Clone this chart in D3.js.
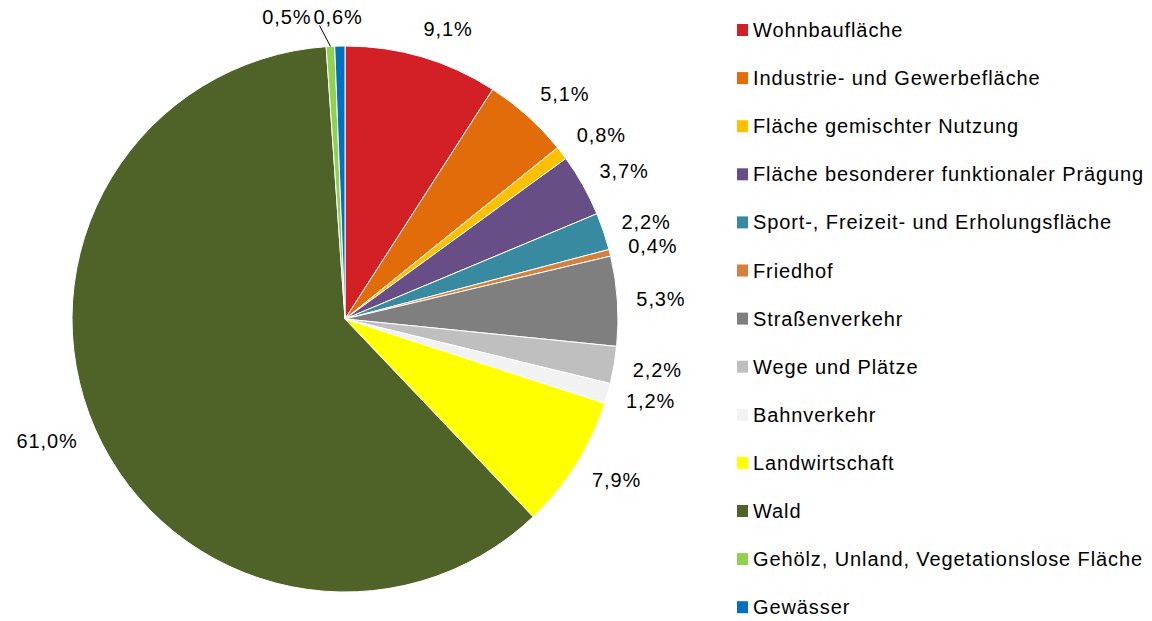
<!DOCTYPE html>
<html>
<head>
<meta charset="utf-8">
<script src="https://cdn.jsdelivr.net/npm/d3@7"></script>
<style>
body{margin:0;background:#fff;}
text{font-family:"Liberation Sans",Arial,sans-serif;font-size:20px;letter-spacing:0.9px;fill:#000;}
</style>
</head>
<body>
<svg class="chart"></svg>
<script>
var categories=["Wohnbaufläche","Industrie- und Gewerbefläche","Fläche gemischter Nutzung","Fläche besonderer funktionaler Prägung","Sport-, Freizeit- und Erholungsfläche","Friedhof","Straßenverkehr","Wege und Plätze","Bahnverkehr","Landwirtschaft","Wald","Gehölz, Unland, Vegetationslose Fläche","Gewässer"];
var values=[9.1,5.1,0.8,3.7,2.2,0.4,5.3,2.2,1.2,7.9,61.0,0.5,0.6];
var labels=["9,1%","5,1%","0,8%","3,7%","2,2%","0,4%","5,3%","2,2%","1,2%","7,9%","61,0%","0,5%","0,6%"];
var colors=["#D32027","#E36C0A","#FFC000","#684E87","#378A9F","#D5803C","#7F7F7F","#BFBFBF","#F2F2F2","#FFFF00","#4F6228","#92D050","#0070C0"];

var screen={width:1152,height:621};
var svg=d3.select("svg.chart")
          .attr("width",screen.width)
          .attr("height",screen.height);

var center={x:345,y:319};
var radius=273;
var labelRadius=radius+19;

var pie=d3.pie().sort(null).value(function(d){return d;});
var arcs=pie(values);
var arc=d3.arc().innerRadius(0).outerRadius(radius);
var color=d3.scaleOrdinal().domain(categories).range(colors);

var plot=svg.append("g")
            .attr("transform","translate("+center.x+","+center.y+")");
plot.selectAll("path")
    .data(arcs)
    .enter()
    .append("path")
    .attr("d",arc)
    .attr("fill",function(d,i){return color(categories[i]);})
    .attr("stroke","#fff")
    .attr("stroke-width",1);

// labels: near edge of the box sits on a circle just outside the pie
var lab=plot.selectAll("text.lab")
            .data(arcs)
            .enter()
            .append("text")
            .classed("lab",true)
            .attr("text-anchor","middle")
            .attr("dy","0.35em")
            .text(function(d,i){return labels[i];});
var boxes=[];
lab.each(function(d,i){
  var w=this.getComputedTextLength();
  var a=(d.startAngle+d.endAngle)/2;
  var s=Math.sin(a),c=Math.cos(a);
  var ax=labelRadius*s,ay=-labelRadius*c;
  var k=Math.max(-1,Math.min(1,s*3));
  boxes.push({a:a,w:w,h:20,x:ax+k*w/2,y:ay-c*10,moved:false});
});
// push overlapping neighbours apart (walk backwards from the last slice)
for(var i=boxes.length-2;i>=0;i--){
  var b=boxes[i],n=boxes[i+1];
  if(Math.abs(b.y-n.y)<b.h && Math.abs(b.x-n.x)<(b.w+n.w)/2+2){
    if(b.x<=n.x){b.x=n.x-(b.w+n.w)/2-2;}else{b.x=n.x+(b.w+n.w)/2+2;}
    b.moved=true;
  }
}
lab.attr("x",function(d,i){return boxes[i].x;})
   .attr("y",function(d,i){return boxes[i].y;});
boxes.forEach(function(b){
  if(!b.moved)return;
  plot.append("line")
      .attr("x1",b.x+b.w/2+8)
      .attr("y1",b.y+8)
      .attr("x2",radius*Math.sin(b.a))
      .attr("y2",-radius*Math.cos(b.a))
      .attr("stroke","#000")
      .attr("stroke-width",1);
});

// legend
var legend=svg.append("g")
              .attr("transform","translate(737,30)");
var step=48.1;
var item=legend.selectAll("g")
               .data(categories)
               .enter()
               .append("g")
               .attr("transform",function(d,i){return "translate(0,"+(i*step)+")";});
item.append("rect")
    .attr("x",0)
    .attr("y",-6)
    .attr("width",11)
    .attr("height",12)
    .attr("fill",function(d){return color(d);});
item.append("text")
    .attr("x",16)
    .attr("y",7)
    .text(function(d){return d;});
</script>
</body>
</html>
